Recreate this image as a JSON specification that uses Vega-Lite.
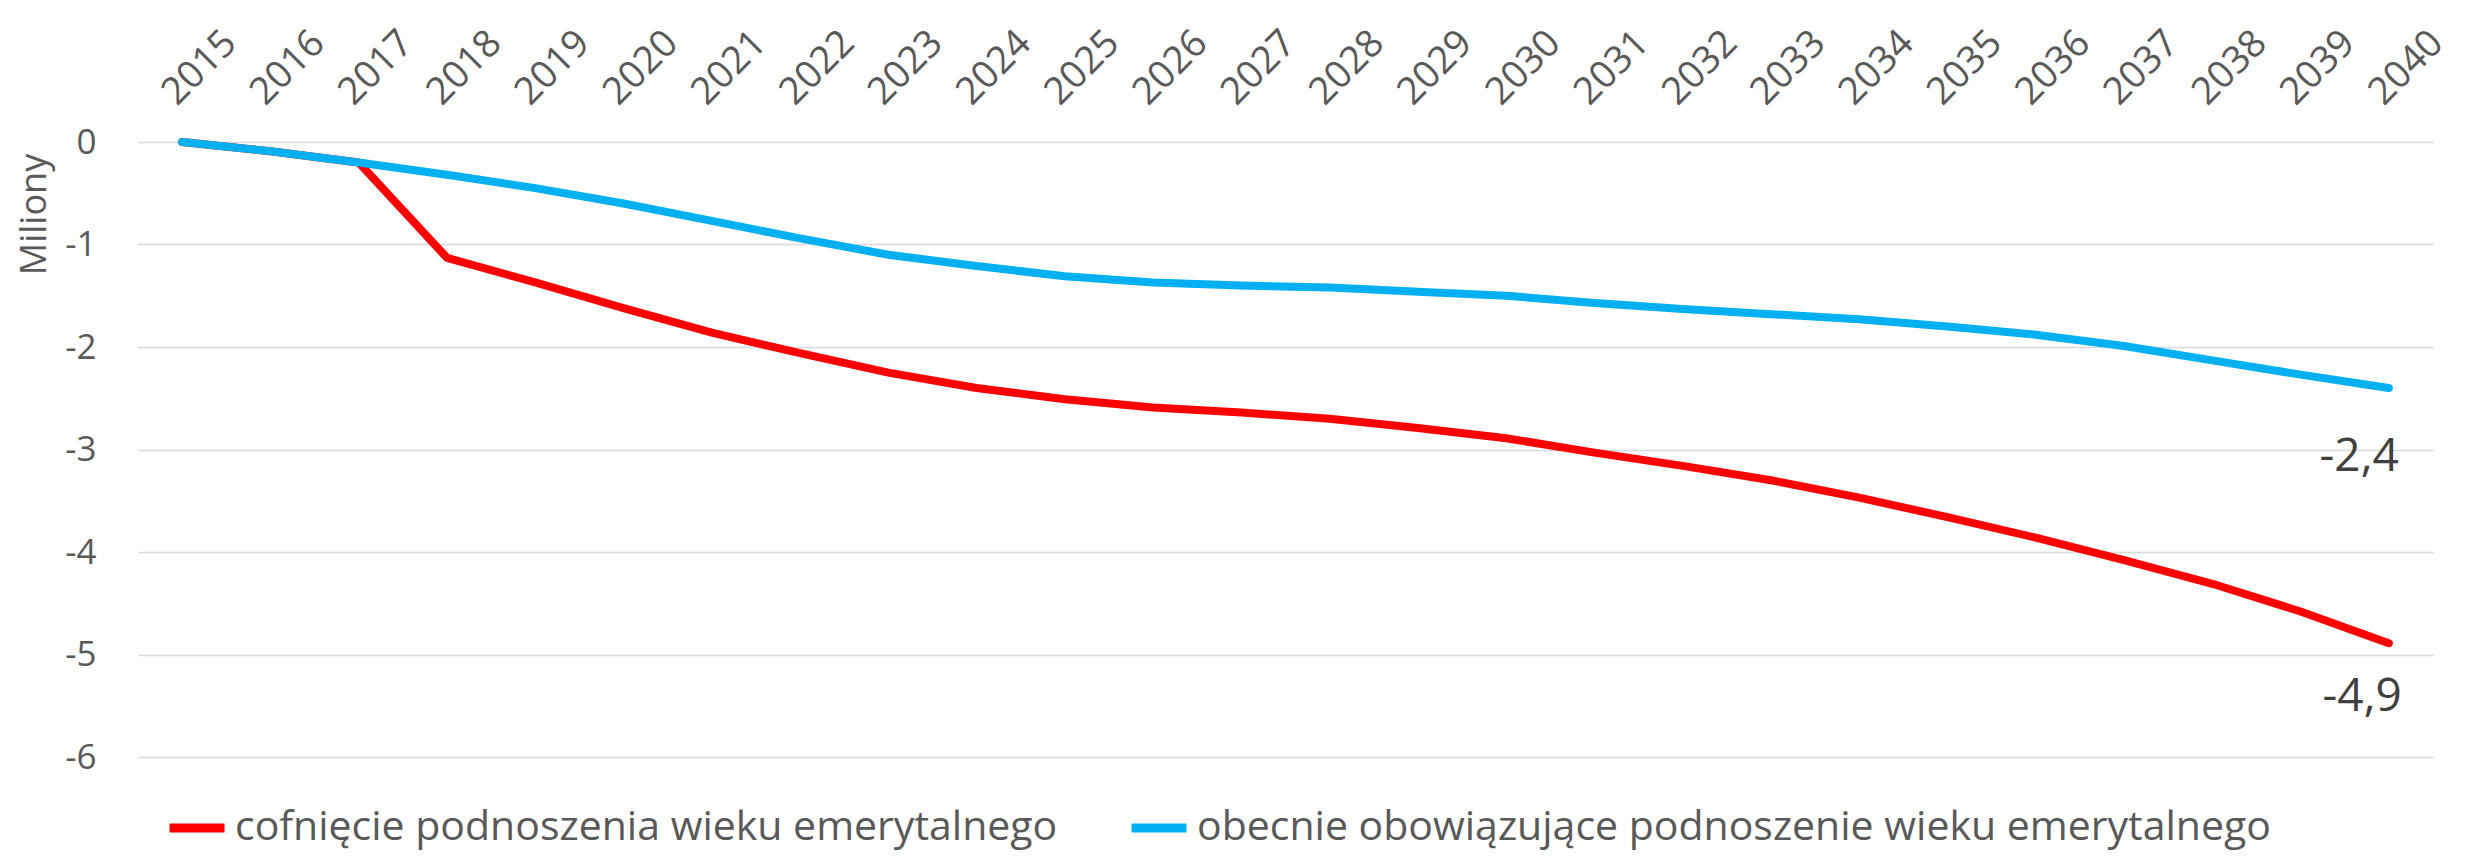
{
  "$schema": "https://vega.github.io/schema/vega-lite/v6.json",
  "width": 2295,
  "height": 615,
  "autosize": {"type": "none"},
  "padding": {"left": 138, "top": 142, "right": 33, "bottom": 102},
  "background": "#ffffff",
  "config": {
    "view": {"stroke": null},
    "font": "Open Sans",
    "locale": {"number": {"decimal": ",", "thousands": " ", "grouping": [3], "currency": ["", " zł"], "minus": "-"}}
  },
  "data": {
    "values": [
      {"year": "2015", "series": "cofnięcie podnoszenia wieku emerytalnego", "value": 0},
      {"year": "2016", "series": "cofnięcie podnoszenia wieku emerytalnego", "value": -0.09},
      {"year": "2017", "series": "cofnięcie podnoszenia wieku emerytalnego", "value": -0.2},
      {"year": "2018", "series": "cofnięcie podnoszenia wieku emerytalnego", "value": -1.13},
      {"year": "2019", "series": "cofnięcie podnoszenia wieku emerytalnego", "value": -1.37},
      {"year": "2020", "series": "cofnięcie podnoszenia wieku emerytalnego", "value": -1.62},
      {"year": "2021", "series": "cofnięcie podnoszenia wieku emerytalnego", "value": -1.86},
      {"year": "2022", "series": "cofnięcie podnoszenia wieku emerytalnego", "value": -2.06},
      {"year": "2023", "series": "cofnięcie podnoszenia wieku emerytalnego", "value": -2.25},
      {"year": "2024", "series": "cofnięcie podnoszenia wieku emerytalnego", "value": -2.4},
      {"year": "2025", "series": "cofnięcie podnoszenia wieku emerytalnego", "value": -2.51},
      {"year": "2026", "series": "cofnięcie podnoszenia wieku emerytalnego", "value": -2.59},
      {"year": "2027", "series": "cofnięcie podnoszenia wieku emerytalnego", "value": -2.64},
      {"year": "2028", "series": "cofnięcie podnoszenia wieku emerytalnego", "value": -2.7},
      {"year": "2029", "series": "cofnięcie podnoszenia wieku emerytalnego", "value": -2.79},
      {"year": "2030", "series": "cofnięcie podnoszenia wieku emerytalnego", "value": -2.89},
      {"year": "2031", "series": "cofnięcie podnoszenia wieku emerytalnego", "value": -3.03},
      {"year": "2032", "series": "cofnięcie podnoszenia wieku emerytalnego", "value": -3.16},
      {"year": "2033", "series": "cofnięcie podnoszenia wieku emerytalnego", "value": -3.3},
      {"year": "2034", "series": "cofnięcie podnoszenia wieku emerytalnego", "value": -3.47},
      {"year": "2035", "series": "cofnięcie podnoszenia wieku emerytalnego", "value": -3.66},
      {"year": "2036", "series": "cofnięcie podnoszenia wieku emerytalnego", "value": -3.86},
      {"year": "2037", "series": "cofnięcie podnoszenia wieku emerytalnego", "value": -4.08},
      {"year": "2038", "series": "cofnięcie podnoszenia wieku emerytalnego", "value": -4.31},
      {"year": "2039", "series": "cofnięcie podnoszenia wieku emerytalnego", "value": -4.58},
      {"year": "2040", "series": "cofnięcie podnoszenia wieku emerytalnego", "value": -4.89},
      {"year": "2015", "series": "obecnie obowiązujące podnoszenie wieku emerytalnego", "value": 0},
      {"year": "2016", "series": "obecnie obowiązujące podnoszenie wieku emerytalnego", "value": -0.09},
      {"year": "2017", "series": "obecnie obowiązujące podnoszenie wieku emerytalnego", "value": -0.2},
      {"year": "2018", "series": "obecnie obowiązujące podnoszenie wieku emerytalnego", "value": -0.32},
      {"year": "2019", "series": "obecnie obowiązujące podnoszenie wieku emerytalnego", "value": -0.45},
      {"year": "2020", "series": "obecnie obowiązujące podnoszenie wieku emerytalnego", "value": -0.6},
      {"year": "2021", "series": "obecnie obowiązujące podnoszenie wieku emerytalnego", "value": -0.77},
      {"year": "2022", "series": "obecnie obowiązujące podnoszenie wieku emerytalnego", "value": -0.94},
      {"year": "2023", "series": "obecnie obowiązujące podnoszenie wieku emerytalnego", "value": -1.1},
      {"year": "2024", "series": "obecnie obowiązujące podnoszenie wieku emerytalnego", "value": -1.21},
      {"year": "2025", "series": "obecnie obowiązujące podnoszenie wieku emerytalnego", "value": -1.31},
      {"year": "2026", "series": "obecnie obowiązujące podnoszenie wieku emerytalnego", "value": -1.37},
      {"year": "2027", "series": "obecnie obowiązujące podnoszenie wieku emerytalnego", "value": -1.4},
      {"year": "2028", "series": "obecnie obowiązujące podnoszenie wieku emerytalnego", "value": -1.42},
      {"year": "2029", "series": "obecnie obowiązujące podnoszenie wieku emerytalnego", "value": -1.46},
      {"year": "2030", "series": "obecnie obowiązujące podnoszenie wieku emerytalnego", "value": -1.5},
      {"year": "2031", "series": "obecnie obowiązujące podnoszenie wieku emerytalnego", "value": -1.57},
      {"year": "2032", "series": "obecnie obowiązujące podnoszenie wieku emerytalnego", "value": -1.63},
      {"year": "2033", "series": "obecnie obowiązujące podnoszenie wieku emerytalnego", "value": -1.68},
      {"year": "2034", "series": "obecnie obowiązujące podnoszenie wieku emerytalnego", "value": -1.73},
      {"year": "2035", "series": "obecnie obowiązujące podnoszenie wieku emerytalnego", "value": -1.8},
      {"year": "2036", "series": "obecnie obowiązujące podnoszenie wieku emerytalnego", "value": -1.88},
      {"year": "2037", "series": "obecnie obowiązujące podnoszenie wieku emerytalnego", "value": -1.99},
      {"year": "2038", "series": "obecnie obowiązujące podnoszenie wieku emerytalnego", "value": -2.13},
      {"year": "2039", "series": "obecnie obowiązujące podnoszenie wieku emerytalnego", "value": -2.27},
      {"year": "2040", "series": "obecnie obowiązujące podnoszenie wieku emerytalnego", "value": -2.4}
    ]
  },
  "encoding": {
    "x": {
      "field": "year",
      "type": "ordinal",
      "scale": {"type": "point", "padding": 0.5},
      "axis": {
        "orient": "top",
        "title": null,
        "labelAngle": -45,
        "labelPadding": 30,
        "labelFontSize": 38,
        "labelColor": "#595959",
        "labelOverlap": false,
        "ticks": false,
        "tickSize": 0,
        "domain": false,
        "grid": false
      }
    },
    "y": {
      "field": "value",
      "type": "quantitative",
      "scale": {"domain": [-6, 0], "nice": false, "zero": false},
      "axis": {
        "values": [-6, -5, -4, -3, -2, -1, 0],
        "format": "d",
        "title": "Miliony",
        "titleFontSize": 36,
        "titleFontWeight": "normal",
        "titleColor": "#595959",
        "titleAlign": "center",
        "titleBaseline": "alphabetic",
        "titleAngle": -90,
        "titleX": -93,
        "titleY": 72,
        "labelFontSize": 35,
        "labelColor": "#595959",
        "labelPadding": 42,
        "ticks": false,
        "tickSize": 0,
        "domain": false,
        "grid": true,
        "gridColor": "#d9d9d9",
        "gridWidth": 1.5
      }
    }
  },
  "layer": [
    {
      "mark": {"type": "line", "strokeWidth": 8, "strokeCap": "round", "strokeJoin": "round"},
      "encoding": {
        "color": {
          "field": "series",
          "type": "nominal",
          "scale": {
            "domain": ["cofnięcie podnoszenia wieku emerytalnego", "obecnie obowiązujące podnoszenie wieku emerytalnego"],
            "range": ["#ff0000", "#00b0f0"]
          },
          "legend": {
            "title": null,
            "orient": "none",
            "direction": "horizontal",
            "legendX": 27,
            "legendY": 654,
            "padding": 0,
            "symbolType": "stroke",
            "symbolSize": 3025,
            "symbolStrokeWidth": 9,
            "labelFontSize": 41,
            "labelColor": "#595959",
            "labelOffset": 6,
            "labelLimit": 2000,
            "columnPadding": 55
          }
        }
      }
    },
    {
      "transform": [{"filter": "datum.year == '2040' && datum.series == 'obecnie obowiązujące podnoszenie wieku emerytalnego'"}],
      "mark": {"type": "text", "fontSize": 46, "color": "#404040", "align": "right", "baseline": "middle", "dx": 10, "dy": 69},
      "encoding": {"text": {"field": "value", "type": "quantitative", "format": ".1f"}}
    },
    {
      "transform": [{"filter": "datum.year == '2040' && datum.series == 'cofnięcie podnoszenia wieku emerytalnego'"}],
      "mark": {"type": "text", "fontSize": 46, "color": "#404040", "align": "right", "baseline": "middle", "dx": 13, "dy": 54},
      "encoding": {"text": {"field": "value", "type": "quantitative", "format": ".1f"}}
    }
  ]
}
